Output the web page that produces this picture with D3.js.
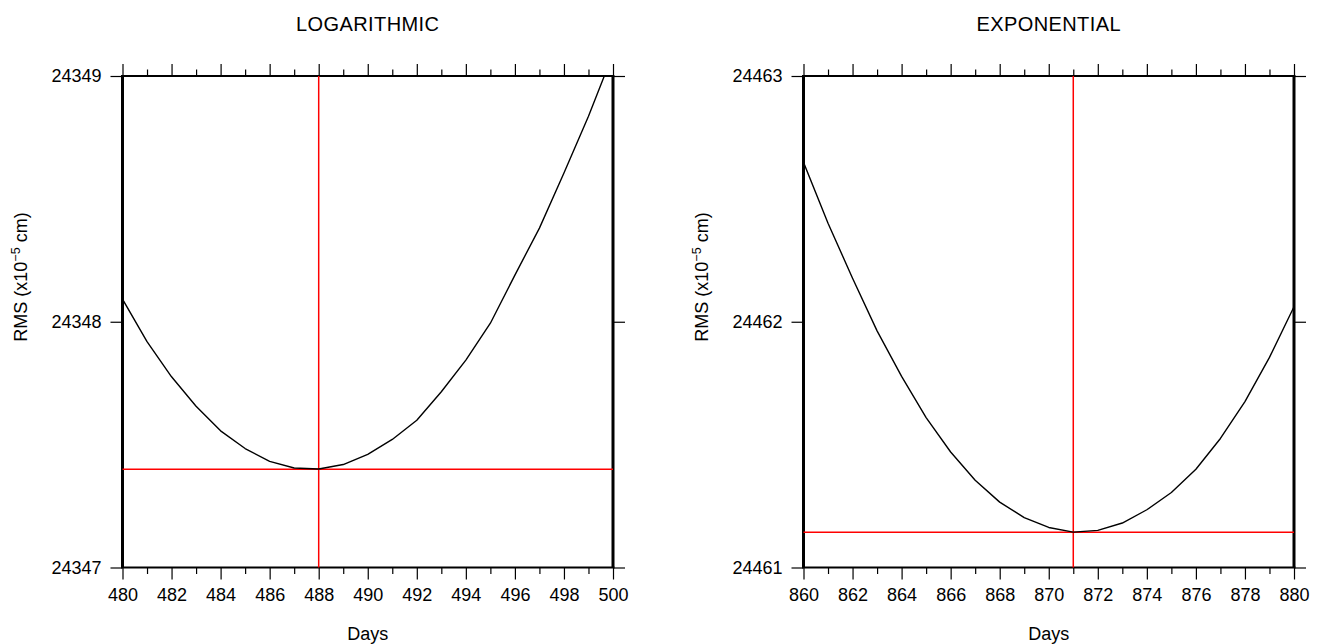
<!DOCTYPE html>
<html>
<head>
<meta charset="utf-8">
<script src="https://cdn.jsdelivr.net/npm/d3@7"></script>
<style>
  html, body { margin: 0; padding: 0; background: #fff; }
  svg { display: block; font-family: "Liberation Sans", Arial, Helvetica, sans-serif; }
</style>
</head>
<body>
<svg id="chart" width="1321" height="644"></svg>
<script>
(function() {

  // Left panel: logarithmic fit
  const logDays = [480, 481, 482, 483, 484, 485, 486, 487, 488, 489, 490,
                   491, 492, 493, 494, 495, 496, 497, 498, 499, 500];
  const logRms = [24348.092, 24347.919, 24347.776, 24347.656, 24347.556, 24347.484,
                  24347.432, 24347.405, 24347.401, 24347.419, 24347.460, 24347.521,
                  24347.599, 24347.715, 24347.844, 24347.994, 24348.190, 24348.381,
                  24348.605, 24348.836, 24349.090];
  const logMinimum = [488, 24347.400];
  const logYTicks = [24347, 24348, 24349];

  // Right panel: exponential fit
  const expDays = [860, 861, 862, 863, 864, 865, 866, 867, 868, 869, 870,
                   871, 872, 873, 874, 875, 876, 877, 878, 879, 880];
  const expRms = [24462.649, 24462.401, 24462.177, 24461.963, 24461.778, 24461.610,
                  24461.470, 24461.355, 24461.266, 24461.203, 24461.163, 24461.144,
                  24461.151, 24461.181, 24461.235, 24461.305, 24461.400, 24461.525,
                  24461.675, 24461.855, 24462.061];
  const expMinimum = [871, 24461.143];
  const expYTicks = [24461, 24462, 24463];

  const INK = "#000";
  const RED = "#ff0000";
  const top = 76, bottom = 567.5;
  const plotW = 490.5;

  const svg = d3.select("#chart");

  drawPanel({ id: "log", left: 122.5, title: "LOGARITHMIC",
              days: logDays, rms: logRms, best: logMinimum, yTicks: logYTicks });
  drawPanel({ id: "exp", left: 803.5, title: "EXPONENTIAL",
              days: expDays, rms: expRms, best: expMinimum, yTicks: expYTicks });


  function drawPanel(cfg) {
    const x = d3.scaleLinear()
      .domain(d3.extent(cfg.days))
      .range([cfg.left, cfg.left + plotW]);
    const y = d3.scaleLinear()
      .domain(d3.extent(cfg.yTicks))
      .range([bottom, top]);

    const g = svg.append("g");
    const [x0, x1] = x.range();

    const major = cfg.days.filter((d, i) => i % 2 === 0);
    const minor = cfg.days.filter((d, i) => i % 2 === 1);

    // clip for the data
    g.append("clipPath").attr("id", `clip-${cfg.id}`)
      .append("rect")
      .attr("x", x0).attr("y", top)
      .attr("width", x1 - x0).attr("height", bottom - top);

    // bottom axis: labelled major ticks + minor ticks
    g.append("g")
      .attr("transform", `translate(0,${bottom})`)
      .call(d3.axisBottom(x).tickValues(major).tickSize(12).tickPadding(8.5)
        .tickFormat(d3.format("d")));
    g.append("g")
      .attr("transform", `translate(0,${bottom})`)
      .call(d3.axisBottom(x).tickValues(minor).tickSize(6.5).tickFormat(""));

    // top axis: ticks only
    g.append("g")
      .attr("transform", `translate(0,${top})`)
      .call(d3.axisTop(x).tickValues(major).tickSize(12).tickFormat(""));
    g.append("g")
      .attr("transform", `translate(0,${top})`)
      .call(d3.axisTop(x).tickValues(minor).tickSize(6.5).tickFormat(""));

    // left axis with labels, right axis ticks only
    g.append("g")
      .attr("transform", `translate(${x0},0)`)
      .call(d3.axisLeft(y).tickValues(cfg.yTicks).tickSize(12).tickPadding(9)
        .tickFormat(d3.format("d")));
    g.append("g")
      .attr("transform", `translate(${x1},0)`)
      .call(d3.axisRight(y).tickValues(cfg.yTicks).tickSize(12).tickFormat(""));

    g.selectAll(".domain").remove();
    g.selectAll(".tick line").attr("stroke", INK).attr("stroke-width", 1.2);
    g.selectAll(".tick text")
      .attr("fill", INK)
      .attr("font-size", 18)
      .attr("font-family", "Liberation Sans, Arial, sans-serif");

    // frame
    g.append("line").attr("x1", x0 - 1.5).attr("x2", x1 + 1.5)
      .attr("y1", top).attr("y2", top)
      .attr("stroke", INK).attr("stroke-width", 2.2);
    g.append("line").attr("x1", x0 - 1.5).attr("x2", x1 + 1.5)
      .attr("y1", bottom).attr("y2", bottom)
      .attr("stroke", INK).attr("stroke-width", 2.2);
    [x0, x1].forEach(xx => {
      g.append("line").attr("x1", xx).attr("x2", xx)
        .attr("y1", top).attr("y2", bottom)
        .attr("stroke", INK).attr("stroke-width", 3);
    });

    // red crosshair at the minimum
    g.append("line")
      .attr("x1", x(cfg.best[0])).attr("x2", x(cfg.best[0]))
      .attr("y1", top).attr("y2", bottom)
      .attr("stroke", RED).attr("stroke-width", 1.5);
    g.append("line")
      .attr("x1", x0).attr("x2", x1)
      .attr("y1", y(cfg.best[1])).attr("y2", y(cfg.best[1]))
      .attr("stroke", RED).attr("stroke-width", 1.5);

    // curve
    const line = d3.line()
      .x((d, i) => x(cfg.days[i]))
      .y(d => y(d));
    g.append("path")
      .datum(cfg.rms)
      .attr("clip-path", `url(#clip-${cfg.id})`)
      .attr("d", line)
      .attr("fill", "none")
      .attr("stroke", INK)
      .attr("stroke-width", 1.4)
      .attr("stroke-linejoin", "round");

    // titles
    const cx = (x0 + x1) / 2;
    g.append("text")
      .attr("x", cx).attr("y", 31)
      .attr("text-anchor", "middle")
      .attr("font-size", 20)
      .attr("letter-spacing", 0.4)
      .attr("fill", INK)
      .text(cfg.title);

    g.append("text")
      .attr("x", cx).attr("y", 640)
      .attr("text-anchor", "middle")
      .attr("font-size", 18)
      .attr("fill", INK)
      .text("Days");

    const yl = g.append("text")
      .attr("transform", `translate(${x0 - 96},277) rotate(-90)`)
      .attr("text-anchor", "middle")
      .attr("font-size", 18)
      .attr("fill", INK);
    yl.append("tspan").text("RMS (x10");
    yl.append("tspan").attr("font-size", 12.5).attr("dy", -7).text("\u22125");
    yl.append("tspan").attr("dy", 7).text(" cm)");
  }

})();
</script>
</body>
</html>
